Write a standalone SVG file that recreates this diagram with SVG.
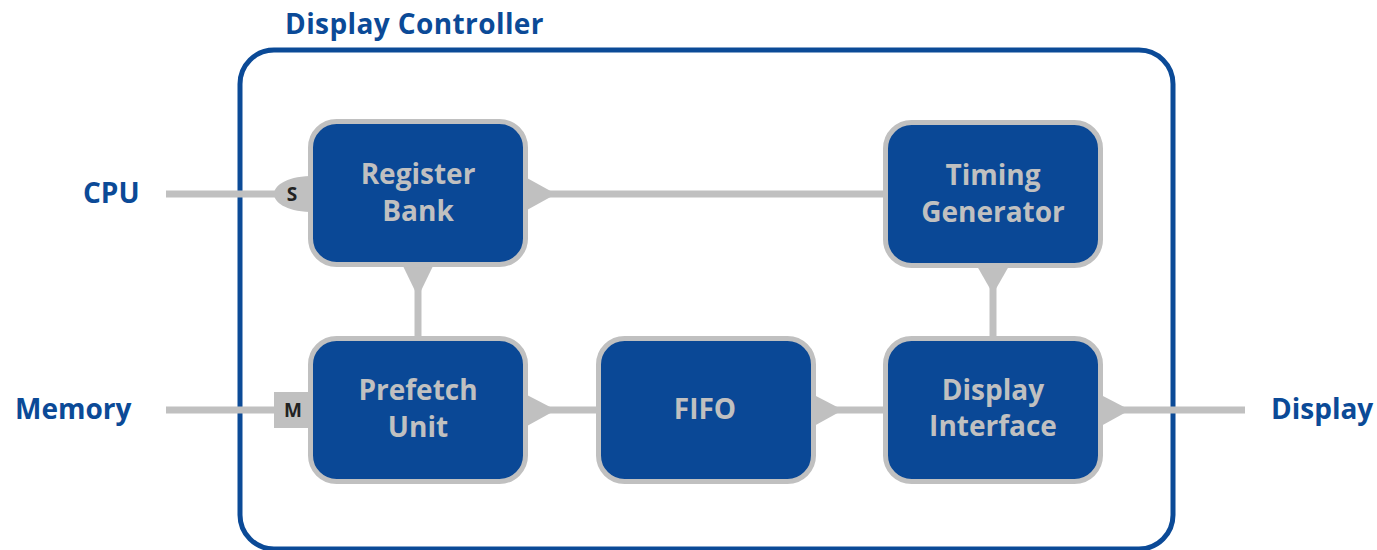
<svg xmlns="http://www.w3.org/2000/svg" width="1377" height="550" viewBox="0 0 1377 550">
  <style>
    .frame { fill: none; stroke: #0b4a97; stroke-width: 5; }
    .node { fill: #0a4896; stroke: #c0c0c0; stroke-width: 5; }
    .ntext { font-family: "Open Sans", "Liberation Sans", sans-serif; font-weight: bold; font-size: 28px; fill: #c0c0c0; text-anchor: middle; }
    .label { font-family: "Open Sans", "Liberation Sans", sans-serif; font-weight: bold; font-size: 28px; fill: #0b4a97; }
    .title { letter-spacing: 0.4px; }
    .wire { stroke: #c0c0c0; stroke-width: 7; fill: none; }
    .head { fill: #c0c0c0; }
    .port { fill: #c0c0c0; }
    .ptext { font-family: "Open Sans", "Liberation Sans", sans-serif; font-weight: bold; font-size: 19px; fill: #222222; text-anchor: middle; }
  </style>

  <!-- external labels -->
  <text class="label" x="83" y="203">CPU</text>
  <text class="label" x="15" y="419">Memory</text>
  <text class="label" x="1271" y="419">Display</text>

  <!-- controller boundary -->
  <g id="display-controller">
    <text class="label title" x="285" y="34">Display Controller</text>
    <rect class="frame" x="240" y="50" width="933" height="499" rx="34"/>
  </g>

  <g id="connectors">
    <!-- CPU -> Register Bank -->
    <line class="wire" x1="166" y1="194" x2="300" y2="194"/>
    <!-- Memory -> Prefetch Unit -->
    <line class="wire" x1="166" y1="410" x2="290" y2="410"/>
    <!-- Register Bank -> Timing Generator -->
    <line class="wire" x1="528" y1="194" x2="886" y2="194"/>
    <polygon class="head" points="527,178 556,194 527,210"/>
    <!-- Register Bank -> Prefetch Unit -->
    <line class="wire" x1="418" y1="266" x2="418" y2="338"/>
    <polygon class="head" points="403,266 418,297 433,266"/>
    <!-- Prefetch Unit -> FIFO -->
    <line class="wire" x1="528" y1="410" x2="598" y2="410"/>
    <polygon class="head" points="527,395 556,410 527,426"/>
    <!-- FIFO -> Display Interface -->
    <line class="wire" x1="815" y1="410" x2="886" y2="410"/>
    <polygon class="head" points="814,395 843,410 814,426"/>
    <!-- Timing Generator -> Display Interface -->
    <line class="wire" x1="993" y1="266" x2="993" y2="338"/>
    <polygon class="head" points="977,266 993,294 1009,266"/>
    <!-- Display Interface -> Display -->
    <line class="wire" x1="1102" y1="410" x2="1245" y2="410"/>
    <polygon class="head" points="1101,395 1130,410 1101,426"/>
  </g>

  <g id="register-bank">
    <path class="port" d="M310,176 C285,177 274,186 274,194 C274,202 285,211 310,212 Z"/>
    <text class="ptext" x="292" y="201">S</text>
    <rect class="node" x="310.5" y="121.5" width="215" height="143" rx="26"/>
    <text class="ntext" x="418" y="184">Register</text>
    <text class="ntext" x="418" y="221">Bank</text>
  </g>

  <g id="timing-generator">
    <rect class="node" x="885.5" y="122.5" width="215" height="143" rx="26"/>
    <text class="ntext" x="993" y="185">Timing</text>
    <text class="ntext" x="993" y="222">Generator</text>
  </g>

  <g id="prefetch-unit">
    <rect class="port" x="274" y="392" width="36" height="36"/>
    <text class="ptext" x="293" y="417">M</text>
    <rect class="node" x="310.5" y="338.5" width="215" height="143" rx="26"/>
    <text class="ntext" x="418" y="400">Prefetch</text>
    <text class="ntext" x="418" y="437">Unit</text>
  </g>

  <g id="fifo">
    <rect class="node" x="598.5" y="338.5" width="215" height="143" rx="26"/>
    <text class="ntext" x="705" y="419">FIFO</text>
  </g>

  <g id="display-interface">
    <rect class="node" x="885.5" y="338.5" width="215" height="143" rx="26"/>
    <text class="ntext" x="993" y="400">Display</text>
    <text class="ntext" x="993" y="436">Interface</text>
  </g>
</svg>
